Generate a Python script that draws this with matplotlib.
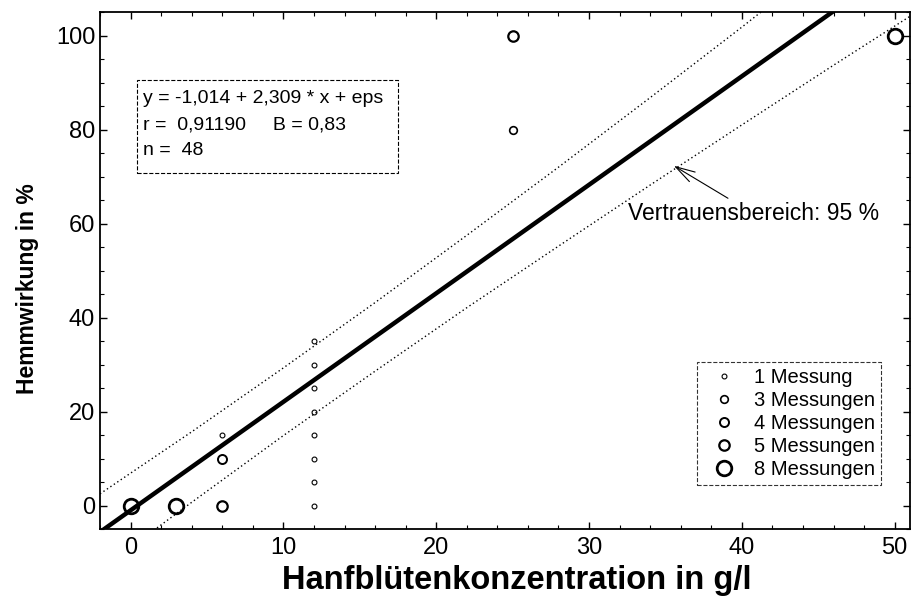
import matplotlib
matplotlib.use("Agg")
import matplotlib.pyplot as plt
from matplotlib.ticker import MultipleLocator
from matplotlib.patches import Rectangle

plt.rcParams['font.family'] = ['Liberation Sans', 'DejaVu Sans']

# Messpunkte, gruppiert nach Anzahl Messungen
counts = [1, 3, 4, 5, 8]
legend_labels = ["1 Messung", "3 Messungen", "4 Messungen", "5 Messungen", "8 Messungen"]
pts_x = {1: [6, 12, 12, 12, 12, 12, 12, 12, 12], 3: [25], 4: [6], 5: [6, 25], 8: [0, 3, 50]}
pts_y = {1: [15, 0, 5, 10, 15, 20, 25, 30, 35], 3: [80], 4: [10], 5: [0, 100], 8: [0, 0, 100]}
msize = {1: 3.5, 3: 5.5, 4: 6.5, 5: 7.5, 8: 10.5}
medge = {1: 0.8, 3: 1.2, 4: 1.4, 5: 1.6, 8: 2.0}

# Regressionsgerade (aus dem Textfeld)
b0 = -1.014
b1 = 2.309

# Vertrauensbereich 95 %
band_x = [-2, 4, 10, 16, 22, 28, 34, 40, 46, 51]
upper_y = [2.5, 15.7, 29.3, 43.2, 57.5, 72.0, 86.8, 101.8, 117.2, 130.0]
lower_y = [-13.7, 0.7, 14.9, 28.6, 42.1, 55.2, 68.2, 81.0, 93.7, 104.1]

fig = plt.figure(figsize=(9.14, 6.04), dpi=100)
ax = fig.add_axes([0.1094, 0.124, 0.8862, 0.856])

ax.plot(band_x, upper_y, color="black", lw=1.0, ls=(0, (1, 2)))
ax.plot(band_x, lower_y, color="black", lw=1.0, ls=(0, (1, 2)))
ax.axline((0, b0), slope=b1, color="black", lw=3.2)

handles = []
for c, lab in zip(counts, legend_labels):
    h, = ax.plot(pts_x[c], pts_y[c], ls="none", marker="o", ms=msize[c],
                 mfc="none", mec="black", mew=medge[c], label=lab)
    handles.append(h)

ax.set_xlim(-2, 51)
ax.set_ylim(-5, 105)
ax.xaxis.set_major_locator(MultipleLocator(10))
ax.xaxis.set_minor_locator(MultipleLocator(2))
ax.yaxis.set_major_locator(MultipleLocator(20))
ax.yaxis.set_minor_locator(MultipleLocator(5))
ax.tick_params(which="both", direction="in", labelsize=17)
ax.tick_params(axis="x", pad=5.5)
ax.tick_params(axis="y", pad=3.5)
ax.tick_params(which="major", length=5, width=1)
ax.tick_params(which="minor", length=3, width=0.8)
ax.tick_params(axis="x", which="both", top=True)
ax.tick_params(axis="y", which="both", right=True)
for s in ax.spines.values():
    s.set_linewidth(1.3)

ax.set_xlabel("Hanfblütenkonzentration in g/l", fontsize=23.5, fontweight="bold")
ax.xaxis.set_label_coords(0.514, -0.07)
ax.set_ylabel("Hemmwirkung in %", fontsize=16.5, fontweight="bold")
ax.yaxis.set_label_coords(-0.075, 0.466)

# Textfeld mit Regressionsergebnis
ax.add_patch(Rectangle((0.0457, 0.6886), 0.3223, 0.18, transform=ax.transAxes,
                       fill=True, fc="white", ec="black", lw=0.8, ls="--", zorder=4))
box_lines = ["y = -1,014 + 2,309 * x + eps", "r =  0,91190     B = 0,83", "n =  48"]
for txt, yy in zip(box_lines, [0.8337, 0.7814, 0.733]):
    ax.text(0.053, yy, txt, transform=ax.transAxes, fontsize=14, va="center",
            ha="left", zorder=5)

leg = ax.legend(handles=handles, loc="upper left", bbox_to_anchor=(0.737, 0.323),
                fontsize=14.5, frameon=True, fancybox=False, edgecolor="black",
                handletextpad=0.42, labelspacing=0.2, borderpad=0.3, handlelength=2.1,
                borderaxespad=0)
leg.get_frame().set_linestyle("--")
leg.get_frame().set_linewidth(0.8)

ax.annotate("Vertrauensbereich: 95 %", xy=(35.55, 72.3), xytext=(32.57, 62.2),
            fontsize=16.5, va="center", ha="left",
            arrowprops=dict(arrowstyle="->,head_length=0.7,head_width=0.2", color="black",
                            lw=0.8, shrinkA=1, shrinkB=0, mutation_scale=20,
                            relpos=(0.42, 1.0)))

fig.savefig("out.png", dpi=100)
